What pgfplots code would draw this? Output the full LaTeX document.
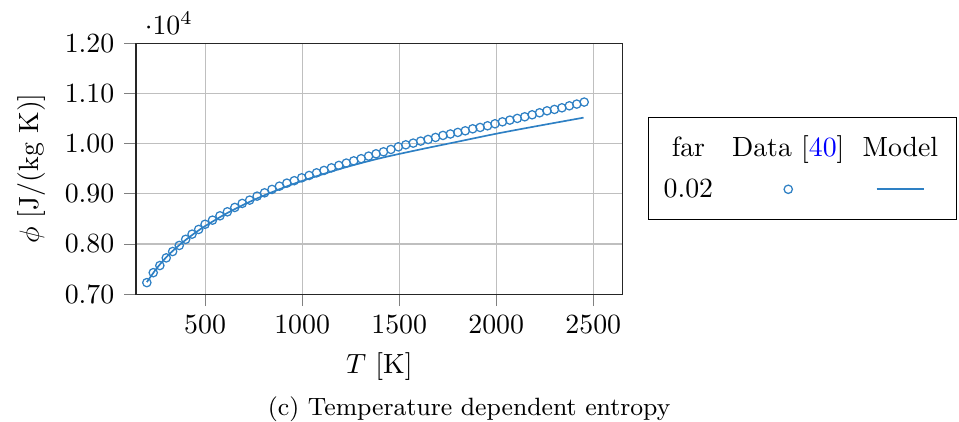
\documentclass[border=0pt]{standalone}
\usepackage{pgfplots}
\pgfplotsset{compat=1.18}
\usepackage{pgfplotstable}

\definecolor{mblue}{RGB}{46,128,196}

% measured entropy (data) and model curve
\pgfplotstableread{
T phi
200 7230
233 7428
267 7570
300 7723
333 7849
367 7970
400 8092
433 8195
467 8289
500 8392
538.3 8474
576.6 8560
614.9 8640
653.2 8727
691.5 8807
729.8 8873
768.1 8952
806.4 9018
844.7 9086
883.0 9151
921.3 9211
959.6 9260
997.9 9317
1036.2 9364
1074.5 9416
1112.8 9464
1151.1 9516
1189.4 9564
1227.7 9610
1266.0 9655
1304.3 9698
1342.6 9749
1380.9 9795
1419.2 9835
1457.5 9882
1495.8 9934
1534.1 9974
1572.4 10008
1610.7 10048
1649.0 10081
1687.3 10121
1725.6 10161
1763.9 10190
1802.2 10221
1840.5 10253
1878.8 10293
1917.1 10320
1955.4 10353
1993.7 10393
2032.0 10432
2070.3 10466
2108.6 10500
2146.9 10532
2185.2 10572
2223.5 10612
2261.8 10651
2300.1 10679
2338.4 10711
2376.7 10751
2415.0 10785
2453.3 10825
}\datatab

\pgfplotstableread{
T phi
200 7240
250 7510
300 7735
350 7920
400 8080
450 8225
500 8355
600 8585
700 8785
800 8960
900 9115
1000 9255
1200 9500
1400 9705
1600 9875
1800 10035
2000 10195
2200 10340
2450 10515
}\modeltab

\begin{document}
\begin{tikzpicture}
\begin{axis}[
    name=ax,
    scale only axis,
    width=175pt, height=90.3pt,
    xmin=144, xmax=2651,
    ymin=7000, ymax=12000,
    xtick={500,1000,...,2500},
    ytick={7000,8000,...,12000},
    grid=major,
    tick align=outside,
    tick pos=left,
    axis line style={black!85},
    scaled x ticks=false,
    scaled y ticks=base 10:-4,
    xticklabel style={/pgf/number format/1000 sep={}},
    yticklabel style={/pgf/number format/fixed, /pgf/number format/fixed zerofill,
        /pgf/number format/precision=2},
    xlabel={$T$ [K]},
    ylabel={$\phi$ [J/(kg K)]},
    legend columns=3,
    legend style={at={(1.052,0.5)}, anchor=west, draw=black,
        inner xsep=5.5pt, inner ysep=6.5pt, row sep=6.7pt, column sep=0pt,
        nodes={inner sep=0pt},
        /tikz/column 2/.style={column sep=5.8pt},
        /tikz/column 4/.style={column sep=5.5pt}},
]
\addplot[forget plot, only marks, mark=o, mark size=1.5pt, color=mblue,
    mark options={line width=0.45pt}] table[x=T, y=phi] {\datatab};
\addplot[forget plot, no marks, color=mblue, line width=0.6pt, smooth] table[x=T, y=phi] {\modeltab};

\addlegendimage{legend image code/.code={\node[inner sep=0pt, anchor=base, text=black] at (0.3cm,-3pt) {far};}}
\addlegendentry{\relax}
\addlegendimage{legend image code/.code={\node[inner sep=0pt, anchor=base, text=black] at (0.3cm,-3pt) {Data [\textcolor{blue}{40}]};}}
\addlegendentry{\relax}
\addlegendimage{legend image code/.code={\node[inner sep=0pt, anchor=base, text=black] at (0.3cm,-3pt) {Model};}}
\addlegendentry{\relax}
\addlegendimage{legend image code/.code={\node[inner sep=0pt, anchor=base, text=black] at (0.3cm,-3pt) {0.02};}}
\addlegendentry{\relax}
\addlegendimage{only marks, mark=o, mark size=1.5pt, color=mblue, mark options={line width=0.45pt}}
\addlegendentry{\relax}
\addlegendimage{no marks, color=mblue, line width=0.6pt}
\addlegendentry{\relax}
\end{axis}
\node[anchor=base, font=\small] at ([shift={(119.8pt,-43.5pt)}]ax.south west) {(c) Temperature dependent entropy};
\pgfresetboundingbox
\path ([shift={(-48.9pt,-45.7pt)}]ax.south west) rectangle ([shift={(296pt,105.8pt)}]ax.south west);
\end{tikzpicture}
\end{document}
